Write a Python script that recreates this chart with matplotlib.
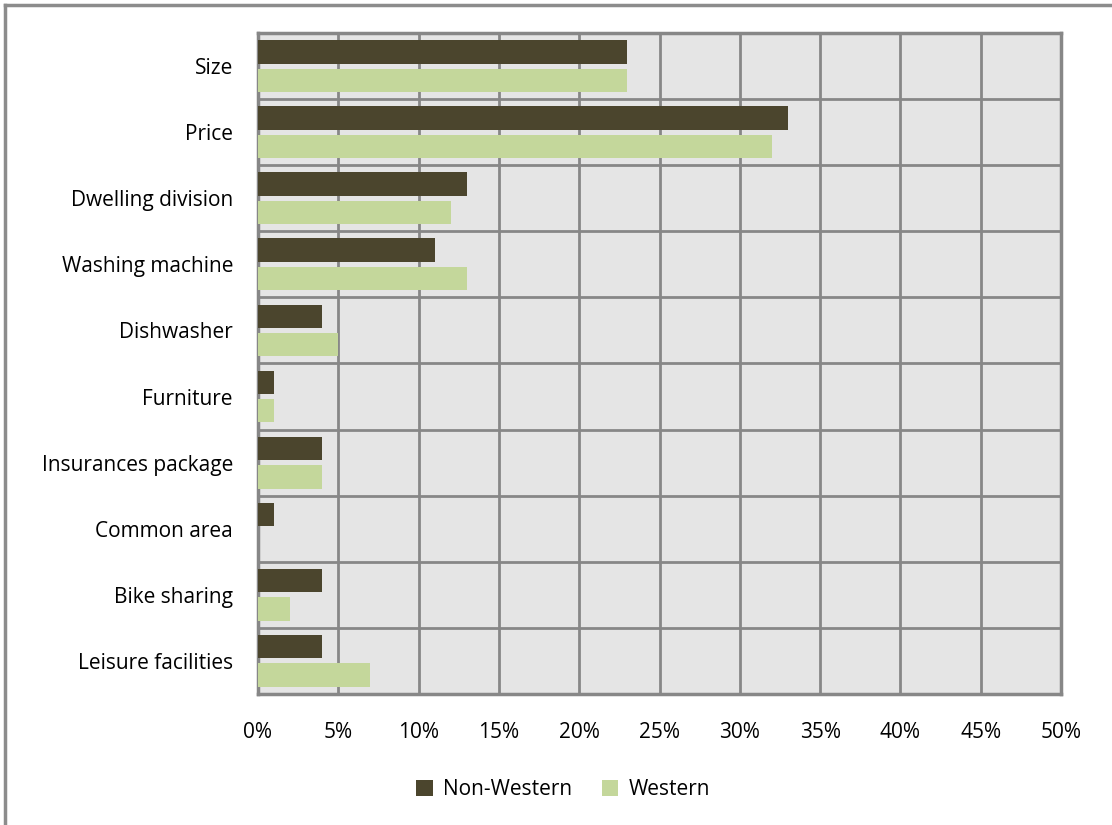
import numpy as np
import matplotlib.pyplot as plt
from matplotlib.lines import Line2D
from matplotlib.ticker import FuncFormatter

categories = ["Size", "Price", "Dwelling division", "Washing machine", "Dishwasher",
              "Furniture", "Insurances package", "Common area", "Bike sharing",
              "Leisure facilities"]
non_western = [23, 33, 13, 11, 4, 1, 4, 1, 4, 4]
western = [23, 32, 12, 13, 5, 1, 4, 0, 2, 7]
x_ticks = [0, 5, 10, 15, 20, 25, 30, 35, 40, 45, 50]

plt.rcParams["font.family"] = ["Open Sans", "DejaVu Sans"]

fig = plt.figure(figsize=(11.12, 8.25), dpi=100)
ax = fig.add_axes([258 / 1112, 1 - 694 / 825, (1061 - 258) / 1112, (694 - 33) / 825])

y = np.arange(len(categories))
h = 0.355
ax.barh(y - 0.215, non_western, height=h, color="#4b452d", label="Non-Western", zorder=3)
ax.barh(y + 0.215, western, height=h, color="#c4d79b", label="Western", zorder=3)

ax.set_xlim(0, 50)
ax.set_ylim(len(categories) - 0.5, -0.5)
ax.set_facecolor("#e5e5e5")
ax.set_xticks(x_ticks)
ax.xaxis.set_major_formatter(FuncFormatter(lambda v, p: f"{v:.0f}%"))
ax.set_yticks(y)
ax.set_yticklabels(categories)
ax.set_yticks(np.arange(len(categories) + 1) - 0.5, minor=True)
ax.grid(axis="x", which="major", color="#878787", linewidth=2, zorder=1)
ax.grid(axis="y", which="minor", color="#878787", linewidth=2, zorder=1)
ax.tick_params(axis="both", which="both", length=0, labelsize=15, colors="#000000")
ax.tick_params(axis="x", pad=20)
ax.tick_params(axis="y", pad=18)
for s in ax.spines.values():
    s.set_color("#878787")
    s.set_linewidth(2.5)

ax.legend(loc="upper center", bbox_to_anchor=(0.38, -0.1), ncol=2, frameon=False,
          fontsize=15, handlelength=0.8, handleheight=0.8, columnspacing=1.4,
          handletextpad=0.5)

# outer frame on the left and top edges
fig.add_artist(Line2D([5 / 1112, 5 / 1112], [0, 1 - 5 / 825], transform=fig.transFigure,
                      color="#8c8c8c", linewidth=2.5))
fig.add_artist(Line2D([5 / 1112, 1], [1 - 5 / 825, 1 - 5 / 825], transform=fig.transFigure,
                      color="#8c8c8c", linewidth=2.5))

fig.savefig("out.png", dpi=100)
